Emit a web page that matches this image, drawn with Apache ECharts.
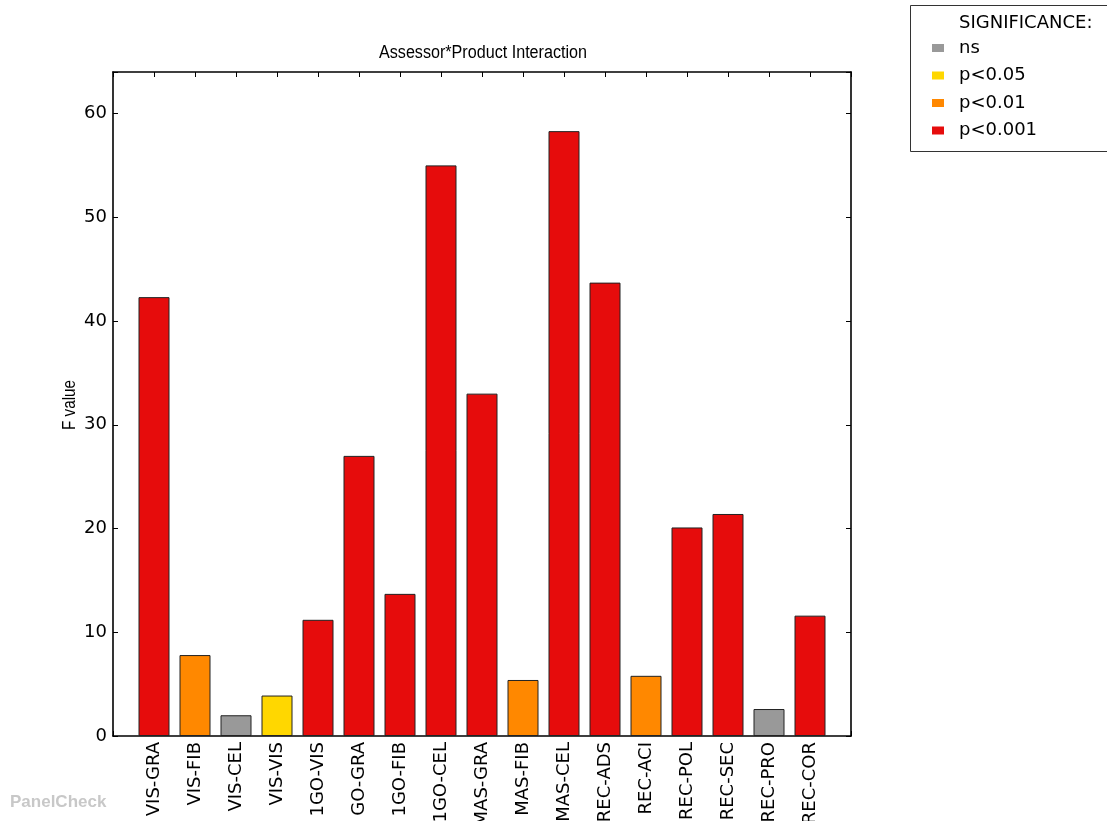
<!DOCTYPE html>
<html>
<head>
<meta charset="utf-8">
<script src="https://cdn.jsdelivr.net/npm/echarts@6/dist/echarts.min.js"></script>
<style>html,body{margin:0;padding:0;background:#fff}#c{width:1107px;height:821px}</style>
</head>
<body>
<div id="c"></div>
<script>
const categories = ['VIS-GRA','VIS-FIB','VIS-CEL','VIS-VIS','1GO-VIS','GO-GRA','1GO-FIB','1GO-CEL','MAS-GRA','MAS-FIB','MAS-CEL','REC-ADS','REC-ACI','REC-POL','REC-SEC','REC-PRO','REC-COR'];
const fValues = [42.3, 7.8, 2.0, 3.9, 11.2, 27.0, 13.7, 55.0, 33.0, 5.4, 58.3, 43.7, 5.8, 20.1, 21.4, 2.6, 11.6];
const significance = ['p<0.001','p<0.01','ns','p<0.05','p<0.001','p<0.001','p<0.001','p<0.001','p<0.001','p<0.01','p<0.001','p<0.001','p<0.01','p<0.001','p<0.001','ns','p<0.001'];
const levels = ['ns','p<0.05','p<0.01','p<0.001'];
const levelColors = ['#999999','#FFD700','#FF8800','#E60C0C'];
const yTicks = [0,10,20,30,40,50,60];
const titleText = 'Assessor*Product Interaction';
const yName = 'F value';

const chart = echarts.init(document.getElementById('c'), null, {renderer:'canvas'});
const L = 113, R = 1107-851, T = 72, B = 821-736;
const axisLineStyle = {color:'#000', width:1.6};

const mctx = document.createElement('canvas').getContext('2d');
const narrowFont = '18px Liberation Sans';
mctx.font = narrowFont;
const titleScale = 208 / mctx.measureText(titleText).width;
const yNameScale = 50 / mctx.measureText(yName).width;

const series = levels.map((lv, k) => ({
  name: lv,
  type: 'bar',
  stack: 'all',
  barWidth: 31,
  xAxisIndex: 0, yAxisIndex: 0,
  itemStyle: {color: levelColors[k], borderColor:'#222', borderWidth:1},
  data: categories.map((c, i) => significance[i] === lv ? [i, fValues[i]] : [i, null])
}));
chart.setOption({
  animation:false,
  grid:{left:L, right:R, top:T, bottom:B, containLabel:false, outerBoundsMode:'none'},
  legend:{orient:'vertical', left:927, top:34, itemWidth:12, itemHeight:8, itemGap:9.5,
    data: levels, icon:'rect',
    itemStyle:{borderWidth:0},
    textStyle:{fontFamily:'DejaVu Sans', fontSize:18, color:'#000', padding:[0,0,0,10]}},
  graphic:[
    {type:'rect', shape:{x:910.5, y:5.5, width:220, height:146}, style:{fill:'#fff', stroke:'#333', lineWidth:1}, z:-1},
    {type:'text', left:959, top:14, style:{text:'SIGNIFICANCE:', font:'18px DejaVu Sans', fill:'#000'}},
    {type:'text', x:483, y:53, scaleX:titleScale,
      style:{text:titleText, font:narrowFont, fill:'#000', align:'center', verticalAlign:'middle'}},
    {type:'text', x:70, y:405, rotation:Math.PI/2, scaleX:yNameScale,
      style:{text:yName, font:narrowFont, fill:'#000', align:'center', verticalAlign:'middle'}},
    {type:'text', left:10, top:794, style:{text:'PanelCheck', font:'bold 17px Liberation Sans', fill:'#c8c8c8'}}
  ],
  xAxis:[
    {type:'value', min:-1, max:17, interval:1, position:'bottom',
      axisLine:{show:true, lineStyle:axisLineStyle, onZero:false},
      axisTick:{show:true, inside:true, length:5, lineStyle:{color:'#000'}},
      splitLine:{show:false},
      axisLabel:{rotate:90, margin:6, fontFamily:'DejaVu Sans', fontSize:18, color:'#000',
        formatter: v => (v >= 0 && v < categories.length) ? categories[v] : ''}},
    {type:'value', min:-1, max:17, interval:1, position:'top',
      axisLine:{show:true, lineStyle:axisLineStyle, onZero:false},
      axisTick:{show:true, inside:true, length:5, lineStyle:{color:'#000'}},
      splitLine:{show:false}, axisLabel:{show:false}}
  ],
  yAxis:[
    {type:'value', min:0, max:64, interval:10, position:'left',
      axisLine:{show:true, lineStyle:axisLineStyle, onZero:false},
      axisTick:{show:true, inside:true, length:5, lineStyle:{color:'#000'}},
      splitLine:{show:false},
      axisLabel:{margin:6, fontFamily:'DejaVu Sans', fontSize:18, color:'#000',
        formatter: v => yTicks.includes(v) ? String(v) : ''}},
    {type:'value', min:0, max:64, interval:10, position:'right',
      axisLine:{show:true, lineStyle:axisLineStyle, onZero:false},
      axisTick:{show:true, inside:true, length:5, lineStyle:{color:'#000'}},
      splitLine:{show:false}, axisLabel:{show:false}}
  ],
  series: series
});
</script>
</body>
</html>
